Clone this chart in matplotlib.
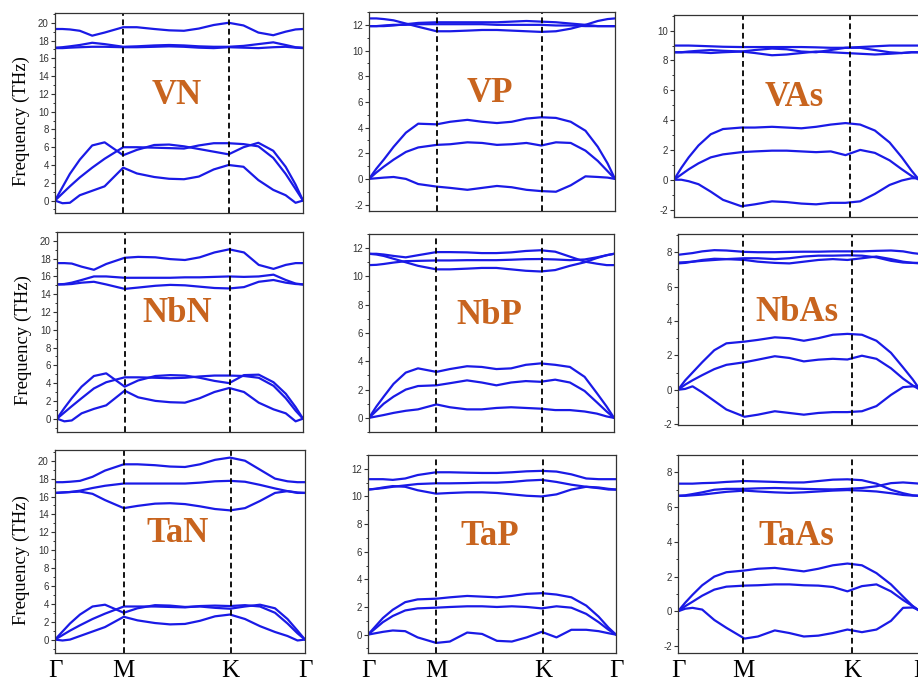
import matplotlib.pyplot as plt
from matplotlib.ticker import MultipleLocator

plt.rcParams['font.family'] = ['Liberation Sans', 'DejaVu Sans']
plt.rcParams['axes.unicode_minus'] = False

# --- path coordinate (fraction of Gamma-M-K-Gamma path) ---
Q = [0, 0.03, 0.06, 0.10, 0.15, 0.20, 0.275, 0.33, 0.40, 0.46,
     0.52, 0.58, 0.64, 0.70, 0.76, 0.82, 0.88, 0.93, 0.97, 1.0]

# --- phonon bands (THz) ---
VN = [
    [19.3, 19.3, 19.25, 19.1, 18.55, 18.9, 19.5, 19.5, 19.3, 19.15, 19.1, 19.35, 19.75, 20.0, 19.7, 18.9, 18.6, 19.0, 19.25, 19.3],
    [17.2, 17.25, 17.35, 17.5, 17.75, 17.6, 17.3, 17.35, 17.45, 17.5, 17.45, 17.35, 17.3, 17.3, 17.4, 17.6, 17.8, 17.5, 17.25, 17.2],
    [17.15, 17.15, 17.2, 17.25, 17.3, 17.3, 17.25, 17.25, 17.3, 17.35, 17.3, 17.2, 17.15, 17.25, 17.2, 17.15, 17.25, 17.3, 17.2, 17.15],
    [0, 1.5, 3.0, 4.6, 6.2, 6.55, 5.1, 5.7, 6.25, 6.3, 6.1, 5.8, 5.5, 5.2, 6.0, 6.5, 5.6, 3.8, 1.8, 0],
    [0, 0.8, 1.6, 2.6, 3.7, 4.7, 6.0, 6.0, 5.95, 5.9, 5.85, 6.2, 6.45, 6.45, 6.35, 6.1, 4.8, 3.0, 1.3, 0],
    [0, -0.3, -0.25, 0.6, 1.1, 1.6, 3.7, 3.05, 2.65, 2.45, 2.4, 2.7, 3.5, 4.0, 3.8, 2.3, 1.2, 0.6, -0.25, 0],
]
VP = [
    [12.5, 12.5, 12.45, 12.35, 12.1, 11.85, 11.5, 11.5, 11.55, 11.6, 11.6, 11.55, 11.5, 11.45, 11.5, 11.7, 12.0, 12.3, 12.45, 12.5],
    [11.9, 11.9, 11.95, 12.0, 12.0, 12.05, 12.05, 12.05, 12.05, 12.05, 12.0, 12.0, 12.0, 12.0, 11.95, 11.95, 11.9, 11.9, 11.9, 11.9],
    [11.9, 11.9, 11.9, 11.95, 12.05, 12.15, 12.2, 12.2, 12.2, 12.2, 12.2, 12.25, 12.3, 12.25, 12.2, 12.1, 12.0, 11.9, 11.9, 11.9],
    [0, 0.8, 1.5, 2.5, 3.6, 4.3, 4.25, 4.45, 4.6, 4.45, 4.35, 4.45, 4.7, 4.8, 4.75, 4.45, 3.75, 2.5, 1.2, 0],
    [0, 0.5, 0.95, 1.5, 2.1, 2.45, 2.65, 2.7, 2.85, 2.8, 2.65, 2.7, 2.8, 2.6, 2.85, 2.8, 2.2, 1.4, 0.6, 0],
    [0, 0.05, 0.1, 0.15, 0.0, -0.4, -0.6, -0.7, -0.85, -0.7, -0.55, -0.65, -0.85, -0.95, -1.0, -0.5, 0.2, 0.15, 0.1, 0],
]
VAs = [
    [9.0, 9.0, 9.0, 8.98, 8.95, 8.92, 8.9, 8.9, 8.9, 8.9, 8.9, 8.88, 8.85, 8.85, 8.9, 8.95, 9.0, 9.0, 9.0, 9.0],
    [8.55, 8.55, 8.6, 8.65, 8.7, 8.65, 8.6, 8.7, 8.8, 8.75, 8.6, 8.55, 8.7, 8.85, 8.85, 8.7, 8.55, 8.5, 8.55, 8.55],
    [8.55, 8.55, 8.55, 8.55, 8.5, 8.55, 8.6, 8.5, 8.35, 8.4, 8.5, 8.6, 8.55, 8.5, 8.45, 8.4, 8.45, 8.5, 8.55, 8.55],
    [0, 0.8, 1.5, 2.3, 3.05, 3.4, 3.5, 3.5, 3.55, 3.5, 3.45, 3.55, 3.7, 3.8, 3.7, 3.3, 2.5, 1.5, 0.6, 0],
    [0, 0.35, 0.7, 1.1, 1.5, 1.7, 1.85, 1.9, 1.95, 1.95, 1.9, 1.85, 1.9, 1.65, 2.0, 1.8, 1.3, 0.7, 0.25, 0],
    [0, 0.0, -0.1, -0.3, -0.8, -1.35, -1.78, -1.65, -1.45, -1.5, -1.6, -1.65, -1.55, -1.55, -1.45, -0.95, -0.35, -0.05, 0.1, 0.1],
]
NbN = [
    [17.5, 17.5, 17.45, 17.1, 16.75, 17.4, 18.1, 18.2, 18.15, 17.95, 17.85, 18.15, 18.7, 19.05, 18.7, 17.3, 16.85, 17.3, 17.5, 17.5],
    [15.1, 15.15, 15.3, 15.6, 16.0, 16.0, 15.85, 15.85, 15.85, 15.85, 15.9, 15.9, 15.95, 16.0, 15.95, 16.0, 16.2, 15.6, 15.2, 15.1],
    [15.1, 15.1, 15.15, 15.3, 15.4, 15.1, 14.6, 14.75, 14.95, 15.05, 15.0, 14.85, 14.7, 14.65, 14.8, 15.4, 15.6, 15.3, 15.15, 15.1],
    [0, 1.2, 2.3, 3.6, 4.8, 5.1, 3.6, 4.3, 4.8, 4.9, 4.85, 4.6, 4.25, 4.0, 4.9, 4.95, 4.1, 2.8, 1.3, 0],
    [0, 0.7, 1.4, 2.3, 3.4, 4.1, 4.65, 4.65, 4.6, 4.55, 4.6, 4.75, 4.85, 4.85, 4.8, 4.6, 3.7, 2.3, 0.9, 0],
    [0, -0.3, -0.2, 0.6, 1.1, 1.5, 3.15, 2.4, 2.0, 1.85, 1.8, 2.3, 3.0, 3.45, 3.0, 1.8, 1.05, 0.6, -0.3, 0],
]
NbP = [
    [11.6, 11.6, 11.55, 11.45, 11.35, 11.5, 11.72, 11.72, 11.7, 11.65, 11.65, 11.7, 11.8, 11.85, 11.75, 11.4, 11.05, 10.9, 10.8, 10.8],
    [10.8, 10.82, 10.88, 10.98, 11.08, 11.1, 11.13, 11.13, 11.15, 11.15, 11.15, 11.18, 11.22, 11.23, 11.2, 11.15, 11.2, 11.35, 11.5, 11.6],
    [11.6, 11.55, 11.45, 11.25, 11.0, 10.75, 10.5, 10.5, 10.55, 10.6, 10.6, 10.5, 10.4, 10.35, 10.45, 10.75, 11.0, 11.3, 11.5, 11.6],
    [0, 0.8, 1.5, 2.4, 3.2, 3.5, 3.25, 3.45, 3.65, 3.6, 3.45, 3.5, 3.75, 3.85, 3.75, 3.6, 2.9, 1.75, 0.8, 0],
    [0, 0.5, 1.0, 1.5, 2.0, 2.25, 2.3, 2.45, 2.65, 2.5, 2.3, 2.5, 2.6, 2.55, 2.7, 2.5, 1.9, 1.1, 0.45, 0],
    [0, 0.1, 0.2, 0.35, 0.5, 0.6, 0.95, 0.75, 0.6, 0.6, 0.7, 0.75, 0.7, 0.65, 0.55, 0.55, 0.45, 0.3, 0.1, 0],
]
NbAs = [
    [7.85, 7.9, 7.95, 8.05, 8.12, 8.1, 8.02, 8.0, 8.0, 8.02, 8.03, 8.03, 8.05, 8.05, 8.05, 8.08, 8.1, 8.05, 7.95, 7.9],
    [7.4, 7.42, 7.45, 7.5, 7.55, 7.6, 7.65, 7.65, 7.6, 7.65, 7.75, 7.8, 7.8, 7.82, 7.8, 7.7, 7.5, 7.4, 7.38, 7.38],
    [7.35, 7.38, 7.45, 7.55, 7.62, 7.6, 7.55, 7.45, 7.38, 7.35, 7.45, 7.55, 7.6, 7.55, 7.65, 7.75, 7.6, 7.45, 7.38, 7.35],
    [0, 0.55, 1.0, 1.6, 2.3, 2.7, 2.8, 2.9, 3.05, 3.0, 2.85, 3.0, 3.2, 3.25, 3.2, 2.85, 2.15, 1.3, 0.6, 0],
    [0, 0.3, 0.55, 0.85, 1.2, 1.45, 1.6, 1.75, 1.95, 1.85, 1.65, 1.75, 1.8, 1.76, 1.98, 1.8, 1.25, 0.65, 0.25, 0],
    [0, 0.05, 0.2, -0.15, -0.65, -1.15, -1.57, -1.45, -1.25, -1.35, -1.45, -1.35, -1.3, -1.3, -1.25, -0.95, -0.3, 0.15, 0.2, 0.2],
]
TaN = [
    [17.6, 17.6, 17.65, 17.75, 18.2, 18.9, 19.6, 19.6, 19.5, 19.35, 19.3, 19.6, 20.1, 20.35, 20.0, 19.0, 18.0, 17.7, 17.6, 17.6],
    [16.4, 16.45, 16.5, 16.65, 16.95, 17.2, 17.45, 17.45, 17.45, 17.45, 17.45, 17.55, 17.7, 17.75, 17.65, 17.3, 16.9, 16.6, 16.4, 16.4],
    [16.4, 16.45, 16.5, 16.55, 16.3, 15.6, 14.7, 14.95, 15.2, 15.25, 15.15, 14.9, 14.6, 14.45, 14.7, 15.5, 16.4, 16.6, 16.45, 16.4],
    [0, 0.9, 1.8, 2.8, 3.7, 3.9, 3.0, 3.5, 3.85, 3.8, 3.65, 3.7, 3.55, 3.45, 3.7, 3.9, 3.5, 2.3, 1.0, 0],
    [0, 0.5, 1.0, 1.6, 2.3, 2.9, 3.7, 3.7, 3.7, 3.65, 3.6, 3.75, 3.8, 3.75, 3.85, 3.7, 3.0, 1.8, 0.7, 0],
    [0, -0.1, 0.0, 0.4, 0.9, 1.4, 2.55, 2.15, 1.85, 1.7, 1.75, 2.1, 2.6, 2.8, 2.3, 1.5, 0.85, 0.4, -0.1, 0],
]
TaP = [
    [11.25, 11.25, 11.25, 11.2, 11.3, 11.55, 11.75, 11.75, 11.72, 11.7, 11.7, 11.75, 11.82, 11.85, 11.8, 11.6, 11.3, 11.25, 11.25, 11.25],
    [10.5, 10.55, 10.6, 10.7, 10.8, 10.9, 10.95, 10.95, 10.97, 11.0, 11.0, 11.05, 11.15, 11.2, 11.05, 10.85, 10.7, 10.6, 10.5, 10.5],
    [10.5, 10.55, 10.65, 10.75, 10.7, 10.45, 10.2, 10.25, 10.3, 10.3, 10.25, 10.15, 10.05, 10.0, 10.15, 10.5, 10.7, 10.65, 10.55, 10.5],
    [0, 0.6, 1.2, 1.8, 2.35, 2.55, 2.6, 2.7, 2.8, 2.75, 2.7, 2.8, 2.95, 3.0, 2.9, 2.7, 2.1, 1.3, 0.5, 0],
    [0, 0.45, 0.9, 1.35, 1.75, 1.9, 1.95, 2.0, 2.05, 2.05, 2.0, 2.05, 2.0, 1.9, 2.05, 1.95, 1.5, 0.9, 0.35, 0],
    [0, 0.1, 0.2, 0.3, 0.25, -0.2, -0.6, -0.5, 0.15, 0.05, -0.45, -0.5, -0.2, 0.2, -0.2, 0.35, 0.35, 0.25, 0.1, 0],
]
TaAs = [
    [7.35, 7.35, 7.35, 7.38, 7.4, 7.45, 7.5, 7.48, 7.45, 7.42, 7.42, 7.5, 7.58, 7.6, 7.55, 7.35, 7.0, 6.8, 6.68, 6.65],
    [6.65, 6.68, 6.75, 6.85, 7.0, 7.05, 7.05, 7.08, 7.1, 7.08, 7.05, 7.03, 7.02, 7.05, 7.1, 7.2, 7.38, 7.42, 7.38, 7.35],
    [6.65, 6.65, 6.68, 6.72, 6.8, 6.88, 6.95, 6.9, 6.85, 6.82, 6.85, 6.9, 6.95, 6.98, 6.95, 6.9, 6.8, 6.7, 6.66, 6.65],
    [0, 0.5, 0.95, 1.5, 2.0, 2.25, 2.35, 2.45, 2.5, 2.4, 2.3, 2.45, 2.65, 2.75, 2.65, 2.2, 1.55, 0.85, 0.3, 0],
    [0, 0.3, 0.55, 0.9, 1.25, 1.42, 1.48, 1.5, 1.55, 1.55, 1.5, 1.48, 1.4, 1.15, 1.45, 1.55, 1.15, 0.65, 0.3, 0],
    [0, 0.15, 0.2, 0.1, -0.5, -0.95, -1.57, -1.45, -1.1, -1.25, -1.45, -1.4, -1.25, -1.05, -1.2, -1.05, -0.55, 0.2, 0.22, 0.05],
]

KPT_LABELS = ['Γ', 'M', 'K', 'Γ']

# name, bands, box in pixels (left, top, right, bottom), ylim, (M, K) position
panels = [
    ('VN', VN, (55, 13, 303, 213), (-1.4, 21.1), (0.275, 0.703)),
    ('VP', VP, (369, 12, 615, 211), (-2.5, 13.0), (0.275, 0.705)),
    ('VAs', VAs, (674, 15, 919, 217), (-2.5, 11.05), (0.28, 0.72)),
    ('NbN', NbN, (57, 232, 303, 432), (-1.5, 21.0), (0.275, 0.703)),
    ('NbP', NbP, (369, 234, 614, 432), (-1.0, 13.0), (0.275, 0.705)),
    ('NbAs', NbAs, (678, 234, 920, 425), (-2.05, 9.06), (0.27, 0.72)),
    ('TaN', TaN, (55, 450, 305, 653), (-1.5, 21.2), (0.275, 0.703)),
    ('TaP', TaP, (368, 455, 616, 653), (-1.33, 13.0), (0.275, 0.705)),
    ('TaAs', TaAs, (678, 455, 920, 653), (-2.4, 9.0), (0.27, 0.72)),
]

W, H = 918, 679
fig = plt.figure(figsize=(W / 100, H / 100), dpi=100)

for i, (name, bands, box, ylim, (m_pos, k_pos)) in enumerate(panels):
    l, t, r, b = box
    ax = fig.add_axes([l / W, 1 - b / H, (r - l) / W, (b - t) / H])
    for band in bands:
        ax.plot(Q, band, color='#1a1ae6', lw=1.6,
                solid_capstyle='round', solid_joinstyle='round')
    for xv in (m_pos, k_pos):
        ax.axvline(xv, color='black', lw=1.3, ls=(0, (3.2, 2.0)))
    ax.set_xlim(0, 1)
    ax.set_ylim(*ylim)
    ax.yaxis.set_major_locator(MultipleLocator(2))
    ax.yaxis.set_minor_locator(MultipleLocator(1))
    ax.tick_params(axis='y', which='major', direction='out', length=3, width=0.8,
                   labelsize=7, colors='#333333', pad=1.5)
    ax.tick_params(axis='y', which='minor', direction='out', length=1.8, width=0.7,
                   colors='#333333')
    for sp in ax.spines.values():
        sp.set_color('#333333')
        sp.set_linewidth(0.9)

    if i >= 6:
        ax.set_xticks([0, m_pos, k_pos, 1])
        ax.set_xticklabels(KPT_LABELS, fontfamily='Liberation Serif', fontsize=18)
        ax.tick_params(axis='x', length=0, pad=5)
    else:
        ax.set_xticks([])

    if i % 3 == 0:
        ax.set_ylabel('Frequency (THz)', fontfamily='Liberation Serif', fontsize=13.5)
        ax.yaxis.set_label_coords(-0.1, 0.46)

    ax.text(0.49, 0.59, name, transform=ax.transAxes, ha='center', va='center',
            fontfamily='Liberation Serif', fontweight='bold', fontsize=25,
            color='#c8641e')

fig.savefig('out.png', dpi=100)
